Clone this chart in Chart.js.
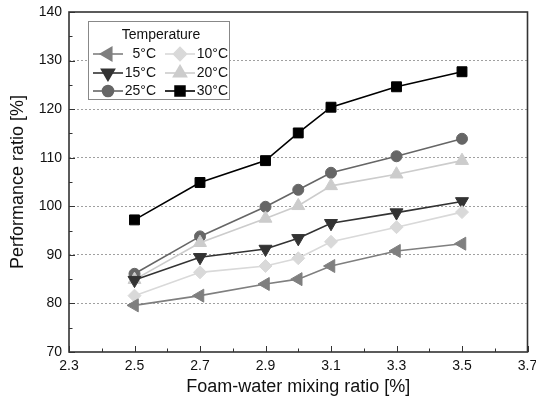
<!DOCTYPE html>
<html>
<head>
<meta charset="utf-8">
<script src="https://cdn.jsdelivr.net/npm/chart.js@4.4.1/dist/chart.umd.min.js"></script>
<style>
  html, body { margin: 0; padding: 0; background: #fff; }
  #wrap { width: 536px; height: 406px; }
</style>
</head>
<body>
<div id="wrap"><canvas id="perfChart" width="536" height="406"></canvas></div>
<script>
// data
const mixRatio = [2.5, 2.7, 2.9, 3.0, 3.1, 3.3, 3.5];
const temp5  = [79.6, 81.6, 84.0, 85.0, 87.7, 90.8, 92.3];
const temp10 = [81.6, 86.4, 87.7, 89.3, 92.7, 95.7, 98.8];
const temp15 = [84.8, 89.5, 91.2, 93.4, 96.5, 98.7, 101.0];
const temp20 = [84.9, 92.5, 97.5, 100.1, 104.2, 106.6, 109.4];
const temp25 = [86.1, 93.8, 99.9, 103.4, 106.9, 110.3, 113.9];
const temp30 = [97.2, 104.9, 109.4, 115.1, 120.4, 124.6, 127.7];
const seriesNames = ['5°C', '10°C', '15°C', '20°C', '25°C', '30°C'];
const xTicks = [2.3, 2.5, 2.7, 2.9, 3.1, 3.3, 3.5, 3.7];
const yTicks = [70, 80, 90, 100, 110, 120, 130, 140];

const FONT = '"Liberation Sans", Arial, sans-serif';

function toPoints(vals) {
    return vals.map((v, i) => ({ x: mixRatio[i], y: v }));
}

const styles = [
    { color: '#7f7f7f', pointStyle: 'triangle', rotation: 270, radius: 7.5 },
    { color: '#d9d9d9', pointStyle: 'rectRot', rotation: 0, radius: 6.5 },
    { color: '#333333', pointStyle: 'triangle', rotation: 180, radius: 7.5 },
    { color: '#cccccc', pointStyle: 'triangle', rotation: 0, radius: 7.5 },
    { color: '#666666', pointStyle: 'circle', rotation: 0, radius: 5.5 },
    { color: '#000000', pointStyle: 'rect', rotation: 0, radius: 7 }
];
const allSeries = [temp5, temp10, temp15, temp20, temp25, temp30];

const datasets = allSeries.map((vals, i) => ({
    label: seriesNames[i],
    data: toPoints(vals),
    borderColor: styles[i].color,
    backgroundColor: styles[i].color,
    pointBackgroundColor: styles[i].color,
    pointBorderColor: styles[i].color,
    pointStyle: styles[i].pointStyle,
    rotation: styles[i].rotation,
    pointRadius: styles[i].radius,
    pointBorderWidth: 1,
    borderWidth: 1.6,
    tension: 0
}));

// frame, inward ticks and the boxed two-column legend
const decorPlugin = {
    id: 'decor',
    afterDatasetsDraw(chart) {
        const ctx = chart.ctx;
        const a = chart.chartArea;
        const xs = chart.scales.x, ys = chart.scales.y;
        ctx.save();
        ctx.strokeStyle = '#333';
        ctx.lineWidth = 1;
        // x ticks
        for (let v = 2.3; v <= 3.7001; v += 0.1) {
            const px = Math.round(xs.getPixelForValue(v)) + 0.5;
            const major = Math.round(v * 10) % 2 === 1;
            ctx.beginPath();
            ctx.moveTo(px, a.bottom);
            ctx.lineTo(px, a.bottom - (major ? 6 : 3.5));
            ctx.stroke();
        }
        // y ticks
        for (let v = 70; v <= 140; v += 5) {
            const py = Math.round(ys.getPixelForValue(v)) + 0.5;
            const major = v % 10 === 0;
            ctx.beginPath();
            ctx.moveTo(a.left, py);
            ctx.lineTo(a.left + (major ? 6 : 3.5), py);
            ctx.stroke();
        }
        // frame
        ctx.lineWidth = 1.6;
        ctx.strokeRect(a.left, a.top, a.right - a.left, a.bottom - a.top);

        // legend
        const bx = 88, by = 21, bw = 141, bh = 78;
        ctx.fillStyle = '#fff';
        ctx.fillRect(bx, by, bw, bh);
        ctx.strokeStyle = '#888';
        ctx.lineWidth = 1;
        ctx.strokeRect(bx + 0.5, by + 0.5, bw, bh);
        ctx.fillStyle = '#111';
        ctx.font = '14px ' + FONT;
        ctx.textAlign = 'center';
        ctx.textBaseline = 'middle';
        ctx.fillText('Temperature', 161, 35);
        const rowsY = [54, 73, 91];
        const colX = [{ l0: 93, l1: 123, tx: 156 }, { l0: 165, l1: 195, tx: 228 }];
        chart.data.datasets.forEach((ds, i) => {
            const c = colX[i % 2];
            const y = rowsY[Math.floor(i / 2)];
            ctx.strokeStyle = ds.borderColor;
            ctx.lineWidth = 1.6;
            ctx.beginPath();
            ctx.moveTo(c.l0, y);
            ctx.lineTo(c.l1, y);
            ctx.stroke();
            ctx.fillStyle = ds.borderColor;
            Chart.helpers.drawPoint(ctx, {
                pointStyle: ds.pointStyle,
                rotation: ds.rotation,
                radius: ds.pointRadius,
                borderWidth: 1
            }, (c.l0 + c.l1) / 2, y);
            ctx.fillStyle = '#111';
            ctx.textAlign = 'right';
            ctx.fillText(ds.label, c.tx, y);
        });
        ctx.restore();
    }
};

const ctx = document.getElementById('perfChart').getContext('2d');
const perfChart = new Chart(ctx, {
    type: 'line',
    data: { datasets: datasets },
    options: {
        responsive: false,
        animation: false,
        layout: { padding: { top: 12, right: 8, left: 0, bottom: 0 } },
        plugins: {
            legend: { display: false },
            tooltip: { enabled: false }
        },
        scales: {
            x: {
                type: 'linear',
                min: 2.3,
                max: 3.7,
                afterFit: function(scale) {
                    scale.height = 54;
                    scale.paddingRight = 0;
                    scale.paddingLeft = 0;
                },
                afterBuildTicks: function(scale) {
                    scale.ticks = xTicks.map(v => ({ value: v }));
                },
                grid: { display: false, drawTicks: false },
                border: { display: false },
                ticks: {
                    color: '#111',
                    padding: 6,
                    maxRotation: 0,
                    font: { family: FONT, size: 14 },
                    callback: function(value) { return value.toFixed(1); }
                },
                title: {
                    display: true,
                    text: 'Foam-water mixing ratio [%]',
                    color: '#111',
                    font: { family: FONT, size: 18 },
                    padding: { top: 0, bottom: 8 }
                }
            },
            y: {
                min: 70,
                max: 140,
                afterFit: function(scale) {
                    scale.width = 69;
                    scale.paddingTop = 0;
                    scale.paddingBottom = 0;
                },
                afterBuildTicks: function(scale) {
                    scale.ticks = yTicks.map(v => ({ value: v }));
                },
                grid: {
                    drawTicks: false,
                    lineWidth: 1,
                    color: function(c) {
                        const v = c.tick ? c.tick.value : null;
                        return (v === 70 || v === 140) ? 'rgba(0,0,0,0)' : '#a0a0a0';
                    }
                },
                border: { display: false, dash: [2, 2] },
                ticks: {
                    color: '#111',
                    padding: 7,
                    font: { family: FONT, size: 14 }
                },
                title: {
                    display: true,
                    text: 'Performance ratio [%]',
                    color: '#111',
                    font: { family: FONT, size: 18 },
                    padding: { top: 7, bottom: 0 }
                }
            }
        }
    },
    plugins: [decorPlugin]
});
</script>
</body>
</html>
